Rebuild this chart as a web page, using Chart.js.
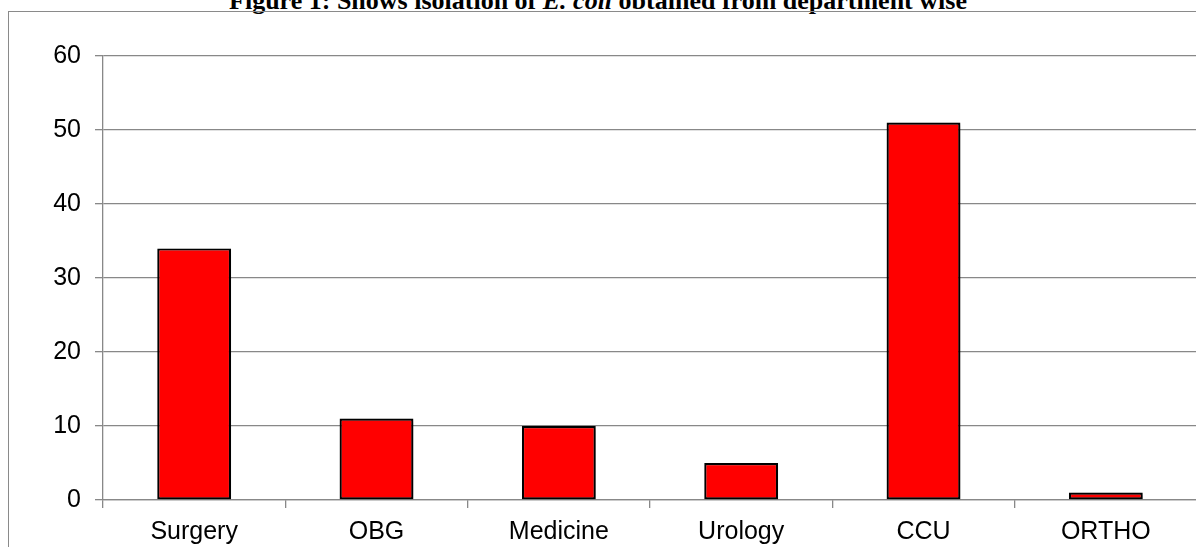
<!DOCTYPE html>
<html>
<head>
<meta charset="utf-8">
<script src="https://cdn.jsdelivr.net/npm/chart.js@4/dist/chart.umd.min.js"></script>
<style>
  html, body { margin: 0; padding: 0; background: #fff; overflow: hidden; width: 1196px; height: 547px; }
  #title { position: absolute; left: 0; width: 1196px; top: -12px; text-align: center;
           font-family: "Liberation Serif", "Times New Roman", serif; font-weight: bold; font-size: 26px; line-height: 26px; color: #000; white-space: nowrap; }
  #frame { position: absolute; left: 8px; top: 11px; width: 1300px; height: 600px; border: 1.5px solid #8a8a8a; box-sizing: border-box; }
  #wrap { position: absolute; left: 0; top: 0; width: 1197px; height: 547px; }
</style>
</head>
<body>
<div id="title">Figure 1: Shows isolation of <i>E. coli</i> obtained from department wise</div>
<div id="frame"></div>
<div id="wrap"><canvas id="c"></canvas></div>
<script>
const categories = ["Surgery", "OBG", "Medicine", "Urology", "CCU", "ORTHO"];
const isolates = [34, 11, 10, 5, 51, 1];
const yTicks = [0, 10, 20, 30, 40, 50, 60];

const shadowPlugin = {
  id: 'barShadow',
  beforeDatasetsDraw(chart) {
    const ctx = chart.ctx;
    ctx.save();
    ctx.shadowColor = 'rgba(0,0,0,0.35)';
    ctx.shadowBlur = 4;
    ctx.shadowOffsetX = 2;
    ctx.shadowOffsetY = 2;
  },
  afterDatasetsDraw(chart) {
    chart.ctx.restore();
  }
};

new Chart(document.getElementById('c'), {
  type: 'bar',
  data: {
    labels: categories,
    datasets: [{
      data: isolates,
      backgroundColor: '#ff0000',
      borderColor: '#000000',
      borderWidth: 2.2,
      borderSkipped: false,
      categoryPercentage: 1.0,
      barPercentage: 0.405
    }]
  },
  options: {
    responsive: true,
    maintainAspectRatio: false,
    animation: false,
    devicePixelRatio: 1,
    layout: { padding: { top: 56, left: 0, right: 0, bottom: 0 } },
    plugins: { legend: { display: false }, tooltip: { enabled: false }, title: { display: false } },
    scales: {
      x: {
        offset: true,
        grid: { display: true, drawOnChartArea: false, drawTicks: true, tickLength: 8, color: '#888888', lineWidth: 1.3, offset: true },
        border: { display: true, color: '#888888', width: 1.3 },
        ticks: { color: '#000', font: { family: 'Liberation Sans, Arial, sans-serif', size: 25 }, padding: 9, maxRotation: 0, autoSkip: false },
        afterFit(scale) { scale.height = 47; }
      },
      y: {
        min: 0, max: 60,
        afterBuildTicks(scale) { scale.ticks = yTicks.map(v => ({ value: v })); },
        grid: { display: true, drawOnChartArea: true, drawTicks: true, tickLength: 8, color: '#888888', lineWidth: 1.3 },
        border: { display: true, color: '#888888', width: 1.3 },
        ticks: { color: '#000', font: { family: 'Liberation Sans, Arial, sans-serif', size: 25 }, padding: 14 },
        afterFit(scale) { scale.width = 103; }
      }
    }
  },
  plugins: [shadowPlugin]
});
</script>
</body>
</html>
